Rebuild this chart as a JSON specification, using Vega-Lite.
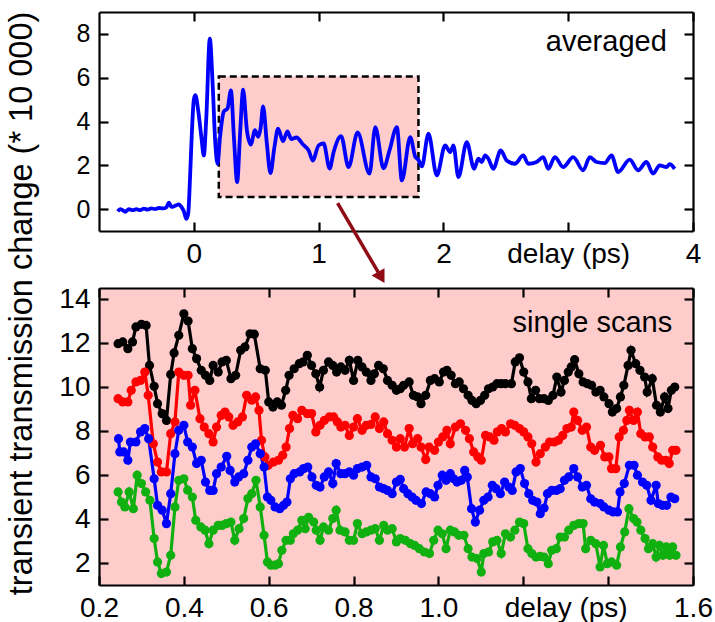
{
  "$schema": "https://vega.github.io/schema/vega-lite/v6.json",
  "padding": {"left": 6, "top": 10, "right": 10, "bottom": 5},
  "config": {
    "font": "Liberation Sans",
    "view": {"stroke": null},
    "axis": {"domainColor": "#000", "domainWidth": 2.2, "tickColor": "#000", "tickWidth": 2.2, "tickSize": -9, "labelPadding": 18, "grid": false, "labelColor": "#000", "labelFontSize": 28, "labelFlush": false, "labelOverlap": false, "titleFontWeight": "normal", "titleColor": "#000"}
  },
  "title": {"text": "transient transmission change (* 10 000)", "orient": "left", "anchor": "middle", "fontSize": 32.5, "fontWeight": "normal", "color": "#000", "offset": 20, "dx": 13},
  "datasets": {
    "box": [{"x0": 0.2, "x1": 1.8, "y0": 0.55, "y1": 6.05}],
    "arrow": [{"x0": 1.152, "y0": 0.27, "x1": 1.502, "y1": -3.12}],
    "avg": [
      {"t": -0.61, "v": -0.1}, {"t": -0.59, "v": 0.0}, {"t": -0.57, "v": -0.05}, {"t": -0.55, "v": -0.12}, {"t": -0.52, "v": 0.0},
      {"t": -0.49, "v": -0.05}, {"t": -0.46, "v": 0.0}, {"t": -0.43, "v": -0.05}, {"t": -0.40, "v": 0.02}, {"t": -0.37, "v": -0.02},
      {"t": -0.34, "v": 0.03}, {"t": -0.31, "v": 0.0}, {"t": -0.28, "v": 0.05}, {"t": -0.25, "v": 0.03}, {"t": -0.22, "v": 0.08},
      {"t": -0.20, "v": 0.3}, {"t": -0.18, "v": 0.1}, {"t": -0.15, "v": 0.15}, {"t": -0.12, "v": 0.22}, {"t": -0.10, "v": 0.1},
      {"t": -0.08, "v": -0.1}, {"t": -0.06, "v": -0.45}, {"t": -0.045, "v": -0.2}, {"t": -0.03, "v": 1.5}, {"t": -0.015, "v": 3.6},
      {"t": 0.0, "v": 5.0}, {"t": 0.012, "v": 5.2}, {"t": 0.035, "v": 4.5}, {"t": 0.06, "v": 3.3}, {"t": 0.08, "v": 2.45},
      {"t": 0.1, "v": 4.2}, {"t": 0.128, "v": 7.78}, {"t": 0.15, "v": 5.8}, {"t": 0.172, "v": 3.0}, {"t": 0.19, "v": 2.07},
      {"t": 0.21, "v": 3.3}, {"t": 0.24, "v": 4.45}, {"t": 0.27, "v": 4.6}, {"t": 0.297, "v": 5.42}, {"t": 0.322, "v": 3.2},
      {"t": 0.347, "v": 1.23}, {"t": 0.372, "v": 3.6}, {"t": 0.395, "v": 5.45}, {"t": 0.425, "v": 3.6}, {"t": 0.456, "v": 2.95},
      {"t": 0.49, "v": 3.6}, {"t": 0.515, "v": 3.3}, {"t": 0.535, "v": 3.7}, {"t": 0.555, "v": 4.69}, {"t": 0.585, "v": 3.0},
      {"t": 0.614, "v": 1.64}, {"t": 0.645, "v": 2.8}, {"t": 0.675, "v": 3.67}, {"t": 0.715, "v": 3.1}, {"t": 0.75, "v": 3.55},
      {"t": 0.78, "v": 3.2}, {"t": 0.822, "v": 3.27}, {"t": 0.875, "v": 2.95}, {"t": 0.92, "v": 2.68}, {"t": 0.953, "v": 2.22},
      {"t": 1.0, "v": 2.91}, {"t": 1.04, "v": 3.0}, {"t": 1.088, "v": 1.85}, {"t": 1.12, "v": 2.6}, {"t": 1.18, "v": 3.33},
      {"t": 1.24, "v": 1.92}, {"t": 1.312, "v": 3.5}, {"t": 1.408, "v": 1.62}, {"t": 1.454, "v": 3.74}, {"t": 1.52, "v": 1.86},
      {"t": 1.568, "v": 2.68}, {"t": 1.627, "v": 3.74}, {"t": 1.667, "v": 1.31}, {"t": 1.734, "v": 3.29}, {"t": 1.774, "v": 2.4},
      {"t": 1.8, "v": 2.25}, {"t": 1.827, "v": 1.95}, {"t": 1.88, "v": 3.44}, {"t": 1.947, "v": 1.54}, {"t": 2.014, "v": 2.91},
      {"t": 2.054, "v": 2.6}, {"t": 2.08, "v": 2.91}, {"t": 2.12, "v": 1.46}, {"t": 2.187, "v": 3.06}, {"t": 2.246, "v": 1.84},
      {"t": 2.28, "v": 2.3}, {"t": 2.307, "v": 2.15}, {"t": 2.334, "v": 2.45}, {"t": 2.36, "v": 2.3}, {"t": 2.4, "v": 1.84},
      {"t": 2.459, "v": 2.68}, {"t": 2.507, "v": 2.22}, {"t": 2.573, "v": 2.07}, {"t": 2.64, "v": 2.45}, {"t": 2.68, "v": 2.07},
      {"t": 2.747, "v": 2.15}, {"t": 2.8, "v": 2.37}, {"t": 2.84, "v": 1.84}, {"t": 2.893, "v": 2.37}, {"t": 2.96, "v": 1.92},
      {"t": 3.04, "v": 2.37}, {"t": 3.12, "v": 1.77}, {"t": 3.173, "v": 2.37}, {"t": 3.227, "v": 2.15}, {"t": 3.293, "v": 2.1},
      {"t": 3.347, "v": 2.45}, {"t": 3.4, "v": 1.69}, {"t": 3.493, "v": 2.26}, {"t": 3.56, "v": 1.77}, {"t": 3.627, "v": 2.15},
      {"t": 3.68, "v": 1.62}, {"t": 3.733, "v": 2.0}, {"t": 3.787, "v": 1.92}, {"t": 3.813, "v": 2.05}, {"t": 3.853, "v": 1.84}
    ],
    "scans": [
      {"s":"k","t":0.245,"v":11.97},{"s":"k","t":0.256,"v":12.05},{"s":"k","t":0.268,"v":11.74},{"s":"k","t":0.279,"v":12.05},{"s":"k","t":0.287,"v":12.73},
      {"s":"k","t":0.3,"v":12.85},{"s":"k","t":0.311,"v":12.8},{"s":"k","t":0.319,"v":10.98},{"s":"k","t":0.33,"v":10.03},{"s":"k","t":0.338,"v":9.24},
      {"s":"k","t":0.349,"v":8.79},{"s":"k","t":0.359,"v":8.48},{"s":"k","t":0.369,"v":10.57},{"s":"k","t":0.377,"v":11.55},{"s":"k","t":0.388,"v":12.35},
      {"s":"k","t":0.4,"v":13.33},{"s":"k","t":0.41,"v":13.0},{"s":"k","t":0.42,"v":11.74},{"s":"k","t":0.43,"v":11.29},{"s":"k","t":0.441,"v":10.76},
      {"s":"k","t":0.451,"v":10.53},{"s":"k","t":0.461,"v":10.3},{"s":"k","t":0.469,"v":10.98},{"s":"k","t":0.481,"v":10.68},{"s":"k","t":0.49,"v":11.14},
      {"s":"k","t":0.5,"v":11.21},{"s":"k","t":0.511,"v":10.38},{"s":"k","t":0.522,"v":10.53},{"s":"k","t":0.534,"v":11.67},{"s":"k","t":0.544,"v":11.82},
      {"s":"k","t":0.556,"v":12.42},{"s":"k","t":0.566,"v":12.4},{"s":"k","t":0.58,"v":10.83},{"s":"k","t":0.592,"v":10.76},{"s":"k","t":0.6,"v":9.32},
      {"s":"k","t":0.61,"v":9.09},{"s":"k","t":0.62,"v":9.32},{"s":"k","t":0.63,"v":9.17},{"s":"k","t":0.64,"v":9.85},{"s":"k","t":0.648,"v":10.53},
      {"s":"k","t":0.66,"v":10.83},{"s":"k","t":0.672,"v":11.06},{"s":"k","t":0.681,"v":11.14},{"s":"k","t":0.691,"v":11.44},{"s":"k","t":0.701,"v":10.98},
      {"s":"k","t":0.711,"v":10.6},{"s":"k","t":0.72,"v":10.0},{"s":"k","t":0.729,"v":10.76},{"s":"k","t":0.741,"v":11.14},{"s":"k","t":0.751,"v":10.98},
      {"s":"k","t":0.76,"v":10.68},{"s":"k","t":0.77,"v":10.91},{"s":"k","t":0.78,"v":10.76},{"s":"k","t":0.79,"v":11.21},{"s":"k","t":0.8,"v":10.3},
      {"s":"k","t":0.81,"v":11.21},{"s":"k","t":0.82,"v":10.91},{"s":"k","t":0.83,"v":10.68},{"s":"k","t":0.841,"v":10.3},{"s":"k","t":0.849,"v":10.6},
      {"s":"k","t":0.859,"v":10.98},{"s":"k","t":0.87,"v":10.83},{"s":"k","t":0.88,"v":10.3},{"s":"k","t":0.891,"v":10.08},{"s":"k","t":0.901,"v":9.85},
      {"s":"k","t":0.91,"v":9.92},{"s":"k","t":0.918,"v":10.08},{"s":"k","t":0.931,"v":10.23},{"s":"k","t":0.941,"v":9.62},{"s":"k","t":0.951,"v":9.55},
      {"s":"k","t":0.959,"v":9.24},{"s":"k","t":0.97,"v":9.62},{"s":"k","t":0.981,"v":10.3},{"s":"k","t":0.991,"v":10.38},{"s":"k","t":1.002,"v":10.23},
      {"s":"k","t":1.012,"v":10.68},{"s":"k","t":1.02,"v":10.76},{"s":"k","t":1.03,"v":10.53},{"s":"k","t":1.04,"v":10.15},{"s":"k","t":1.049,"v":10.23},
      {"s":"k","t":1.059,"v":9.92},{"s":"k","t":1.07,"v":9.62},{"s":"k","t":1.079,"v":9.39},{"s":"k","t":1.089,"v":9.24},{"s":"k","t":1.099,"v":9.39},
      {"s":"k","t":1.109,"v":9.62},{"s":"k","t":1.118,"v":9.92},{"s":"k","t":1.128,"v":10.0},{"s":"k","t":1.138,"v":10.15},{"s":"k","t":1.148,"v":10.15},
      {"s":"k","t":1.158,"v":10.15},{"s":"k","t":1.172,"v":10.15},{"s":"k","t":1.181,"v":11.14},{"s":"k","t":1.191,"v":11.33},{"s":"k","t":1.201,"v":10.68},
      {"s":"k","t":1.211,"v":10.23},{"s":"k","t":1.219,"v":9.47},{"s":"k","t":1.229,"v":9.85},{"s":"k","t":1.238,"v":9.47},{"s":"k","t":1.249,"v":9.47},
      {"s":"k","t":1.259,"v":9.39},{"s":"k","t":1.27,"v":9.62},{"s":"k","t":1.279,"v":10.45},{"s":"k","t":1.289,"v":9.77},{"s":"k","t":1.297,"v":10.3},
      {"s":"k","t":1.306,"v":10.68},{"s":"k","t":1.313,"v":10.91},{"s":"k","t":1.321,"v":11.24},{"s":"k","t":1.331,"v":10.6},{"s":"k","t":1.341,"v":10.23},
      {"s":"k","t":1.351,"v":10.15},{"s":"k","t":1.361,"v":10.08},{"s":"k","t":1.371,"v":9.77},{"s":"k","t":1.381,"v":9.85},{"s":"k","t":1.39,"v":9.55},
      {"s":"k","t":1.402,"v":9.24},{"s":"k","t":1.41,"v":8.86},{"s":"k","t":1.42,"v":9.02},{"s":"k","t":1.429,"v":9.55},{"s":"k","t":1.437,"v":10.08},
      {"s":"k","t":1.447,"v":10.98},{"s":"k","t":1.454,"v":11.67},{"s":"k","t":1.465,"v":11.06},{"s":"k","t":1.475,"v":10.76},{"s":"k","t":1.486,"v":10.45},
      {"s":"k","t":1.492,"v":9.77},{"s":"k","t":1.504,"v":10.38},{"s":"k","t":1.514,"v":9.17},{"s":"k","t":1.523,"v":8.86},{"s":"k","t":1.533,"v":9.55},
      {"s":"k","t":1.541,"v":9.02},{"s":"k","t":1.549,"v":9.85},{"s":"k","t":1.557,"v":10.0},

      {"s":"r","t":0.245,"v":9.47},{"s":"r","t":0.256,"v":9.32},{"s":"r","t":0.268,"v":9.32},{"s":"r","t":0.276,"v":9.85},{"s":"r","t":0.287,"v":10.23},
      {"s":"r","t":0.298,"v":10.3},{"s":"r","t":0.308,"v":10.68},{"s":"r","t":0.316,"v":9.62},{"s":"r","t":0.328,"v":7.42},{"s":"r","t":0.338,"v":6.59},
      {"s":"r","t":0.347,"v":6.14},{"s":"r","t":0.359,"v":6.14},{"s":"r","t":0.369,"v":7.88},{"s":"r","t":0.379,"v":8.41},{"s":"r","t":0.388,"v":10.68},
      {"s":"r","t":0.4,"v":10.53},{"s":"r","t":0.41,"v":10.53},{"s":"r","t":0.416,"v":9.17},{"s":"r","t":0.426,"v":9.85},{"s":"r","t":0.438,"v":8.56},
      {"s":"r","t":0.448,"v":8.18},{"s":"r","t":0.459,"v":7.88},{"s":"r","t":0.469,"v":7.5},{"s":"r","t":0.477,"v":8.18},{"s":"r","t":0.488,"v":8.71},
      {"s":"r","t":0.497,"v":8.86},{"s":"r","t":0.506,"v":8.64},{"s":"r","t":0.516,"v":8.26},{"s":"r","t":0.527,"v":8.41},{"s":"r","t":0.538,"v":8.64},
      {"s":"r","t":0.548,"v":9.62},{"s":"r","t":0.56,"v":9.4},{"s":"r","t":0.569,"v":9.55},{"s":"r","t":0.577,"v":8.94},{"s":"r","t":0.583,"v":7.58},
      {"s":"r","t":0.591,"v":6.82},{"s":"r","t":0.599,"v":6.44},{"s":"r","t":0.611,"v":6.59},{"s":"r","t":0.623,"v":6.67},{"s":"r","t":0.633,"v":6.9},
      {"s":"r","t":0.641,"v":7.27},{"s":"r","t":0.649,"v":8.11},{"s":"r","t":0.657,"v":8.71},{"s":"r","t":0.668,"v":8.56},{"s":"r","t":0.678,"v":8.94},
      {"s":"r","t":0.691,"v":8.79},{"s":"r","t":0.701,"v":8.79},{"s":"r","t":0.711,"v":7.96},{"s":"r","t":0.721,"v":8.26},{"s":"r","t":0.731,"v":8.48},
      {"s":"r","t":0.743,"v":8.64},{"s":"r","t":0.753,"v":8.64},{"s":"r","t":0.762,"v":8.41},{"s":"r","t":0.77,"v":8.18},{"s":"r","t":0.78,"v":8.26},
      {"s":"r","t":0.79,"v":7.8},{"s":"r","t":0.8,"v":8.18},{"s":"r","t":0.809,"v":8.56},{"s":"r","t":0.82,"v":8.03},{"s":"r","t":0.83,"v":8.26},
      {"s":"r","t":0.841,"v":8.3},{"s":"r","t":0.851,"v":8.64},{"s":"r","t":0.861,"v":8.11},{"s":"r","t":0.871,"v":8.41},{"s":"r","t":0.88,"v":7.88},
      {"s":"r","t":0.891,"v":7.58},{"s":"r","t":0.901,"v":7.27},{"s":"r","t":0.91,"v":7.65},{"s":"r","t":0.92,"v":7.27},{"s":"r","t":0.931,"v":8.11},
      {"s":"r","t":0.939,"v":7.42},{"s":"r","t":0.951,"v":7.65},{"s":"r","t":0.959,"v":7.27},{"s":"r","t":0.97,"v":6.7},{"s":"r","t":0.978,"v":7.27},
      {"s":"r","t":0.991,"v":7.12},{"s":"r","t":1.0,"v":7.5},{"s":"r","t":1.01,"v":7.73},{"s":"r","t":1.02,"v":8.03},{"s":"r","t":1.028,"v":7.42},
      {"s":"r","t":1.04,"v":8.18},{"s":"r","t":1.052,"v":8.33},{"s":"r","t":1.064,"v":8.03},{"s":"r","t":1.073,"v":7.65},{"s":"r","t":1.083,"v":7.05},
      {"s":"r","t":1.093,"v":6.82},{"s":"r","t":1.101,"v":6.67},{"s":"r","t":1.111,"v":7.8},{"s":"r","t":1.121,"v":7.73},{"s":"r","t":1.131,"v":7.58},
      {"s":"r","t":1.139,"v":7.96},{"s":"r","t":1.149,"v":8.11},{"s":"r","t":1.158,"v":7.96},{"s":"r","t":1.17,"v":8.33},{"s":"r","t":1.18,"v":8.26},
      {"s":"r","t":1.191,"v":8.11},{"s":"r","t":1.201,"v":7.96},{"s":"r","t":1.211,"v":7.73},{"s":"r","t":1.22,"v":7.42},{"s":"r","t":1.23,"v":6.59},
      {"s":"r","t":1.24,"v":6.97},{"s":"r","t":1.252,"v":7.27},{"s":"r","t":1.262,"v":7.5},{"s":"r","t":1.273,"v":7.5},{"s":"r","t":1.283,"v":7.58},
      {"s":"r","t":1.293,"v":7.8},{"s":"r","t":1.303,"v":8.11},{"s":"r","t":1.313,"v":8.18},{"s":"r","t":1.319,"v":8.86},{"s":"r","t":1.328,"v":8.48},
      {"s":"r","t":1.339,"v":8.03},{"s":"r","t":1.349,"v":8.18},{"s":"r","t":1.359,"v":7.27},{"s":"r","t":1.368,"v":7.12},{"s":"r","t":1.382,"v":7.35},
      {"s":"r","t":1.392,"v":6.82},{"s":"r","t":1.402,"v":6.82},{"s":"r","t":1.408,"v":6.29},{"s":"r","t":1.418,"v":6.29},{"s":"r","t":1.426,"v":7.73},
      {"s":"r","t":1.436,"v":8.03},{"s":"r","t":1.444,"v":8.48},{"s":"r","t":1.45,"v":8.94},{"s":"r","t":1.46,"v":8.48},{"s":"r","t":1.469,"v":8.86},
      {"s":"r","t":1.477,"v":7.88},{"s":"r","t":1.487,"v":7.73},{"s":"r","t":1.497,"v":7.73},{"s":"r","t":1.505,"v":7.27},{"s":"r","t":1.517,"v":6.82},
      {"s":"r","t":1.526,"v":6.67},{"s":"r","t":1.536,"v":6.67},{"s":"r","t":1.544,"v":6.52},{"s":"r","t":1.552,"v":7.12},{"s":"r","t":1.56,"v":7.12},

      {"s":"b","t":0.246,"v":7.65},{"s":"b","t":0.249,"v":7.05},{"s":"b","t":0.258,"v":7.05},{"s":"b","t":0.268,"v":6.67},{"s":"b","t":0.274,"v":7.5},
      {"s":"b","t":0.287,"v":7.5},{"s":"b","t":0.298,"v":7.96},{"s":"b","t":0.308,"v":8.11},{"s":"b","t":0.317,"v":7.65},{"s":"b","t":0.33,"v":5.83},
      {"s":"b","t":0.338,"v":4.62},{"s":"b","t":0.349,"v":4.4},{"s":"b","t":0.359,"v":3.79},{"s":"b","t":0.369,"v":5.15},{"s":"b","t":0.379,"v":6.97},
      {"s":"b","t":0.388,"v":8.03},{"s":"b","t":0.4,"v":8.26},{"s":"b","t":0.409,"v":7.5},{"s":"b","t":0.42,"v":7.27},{"s":"b","t":0.43,"v":6.52},
      {"s":"b","t":0.441,"v":6.67},{"s":"b","t":0.451,"v":5.68},{"s":"b","t":0.461,"v":5.3},{"s":"b","t":0.469,"v":5.3},{"s":"b","t":0.477,"v":6.06},
      {"s":"b","t":0.488,"v":6.36},{"s":"b","t":0.501,"v":6.85},{"s":"b","t":0.509,"v":6.21},{"s":"b","t":0.52,"v":5.68},{"s":"b","t":0.529,"v":5.91},
      {"s":"b","t":0.541,"v":6.06},{"s":"b","t":0.551,"v":6.67},{"s":"b","t":0.56,"v":7.27},{"s":"b","t":0.569,"v":7.42},{"s":"b","t":0.58,"v":6.97},
      {"s":"b","t":0.589,"v":6.36},{"s":"b","t":0.597,"v":5.0},{"s":"b","t":0.605,"v":4.85},{"s":"b","t":0.615,"v":4.55},{"s":"b","t":0.626,"v":4.47},
      {"s":"b","t":0.635,"v":4.62},{"s":"b","t":0.643,"v":4.77},{"s":"b","t":0.651,"v":5.83},{"s":"b","t":0.66,"v":6.06},{"s":"b","t":0.673,"v":6.14},
      {"s":"b","t":0.682,"v":6.29},{"s":"b","t":0.692,"v":6.36},{"s":"b","t":0.702,"v":5.91},{"s":"b","t":0.712,"v":5.53},{"s":"b","t":0.721,"v":5.45},
      {"s":"b","t":0.731,"v":5.91},{"s":"b","t":0.741,"v":6.14},{"s":"b","t":0.751,"v":5.61},{"s":"b","t":0.759,"v":6.52},{"s":"b","t":0.77,"v":6.06},
      {"s":"b","t":0.78,"v":6.06},{"s":"b","t":0.79,"v":6.14},{"s":"b","t":0.8,"v":5.99},{"s":"b","t":0.809,"v":6.29},{"s":"b","t":0.82,"v":6.36},
      {"s":"b","t":0.831,"v":6.44},{"s":"b","t":0.841,"v":5.91},{"s":"b","t":0.851,"v":5.83},{"s":"b","t":0.861,"v":5.45},{"s":"b","t":0.871,"v":5.38},
      {"s":"b","t":0.88,"v":5.3},{"s":"b","t":0.891,"v":5.15},{"s":"b","t":0.901,"v":5.68},{"s":"b","t":0.91,"v":5.8},{"s":"b","t":0.918,"v":5.38},
      {"s":"b","t":0.928,"v":5.15},{"s":"b","t":0.938,"v":5.0},{"s":"b","t":0.947,"v":4.85},{"s":"b","t":0.96,"v":4.7},{"s":"b","t":0.971,"v":5.23},
      {"s":"b","t":0.981,"v":5.15},{"s":"b","t":0.991,"v":5.0},{"s":"b","t":0.999,"v":5.53},{"s":"b","t":1.009,"v":5.99},{"s":"b","t":1.018,"v":5.76},
      {"s":"b","t":1.028,"v":6.06},{"s":"b","t":1.036,"v":5.83},{"s":"b","t":1.044,"v":5.68},{"s":"b","t":1.054,"v":5.76},{"s":"b","t":1.062,"v":6.21},
      {"s":"b","t":1.068,"v":5.91},{"s":"b","t":1.078,"v":4.47},{"s":"b","t":1.087,"v":3.86},{"s":"b","t":1.097,"v":4.4},{"s":"b","t":1.107,"v":4.85},
      {"s":"b","t":1.117,"v":5.0},{"s":"b","t":1.127,"v":5.53},{"s":"b","t":1.136,"v":5.38},{"s":"b","t":1.146,"v":5.15},{"s":"b","t":1.156,"v":5.68},
      {"s":"b","t":1.166,"v":5.45},{"s":"b","t":1.174,"v":5.3},{"s":"b","t":1.183,"v":6.14},{"s":"b","t":1.193,"v":6.29},{"s":"b","t":1.203,"v":5.61},
      {"s":"b","t":1.213,"v":5.15},{"s":"b","t":1.222,"v":4.85},{"s":"b","t":1.232,"v":4.77},{"s":"b","t":1.24,"v":4.24},{"s":"b","t":1.249,"v":4.5},
      {"s":"b","t":1.257,"v":5.15},{"s":"b","t":1.267,"v":5.3},{"s":"b","t":1.278,"v":5.3},{"s":"b","t":1.287,"v":5.38},{"s":"b","t":1.297,"v":5.76},
      {"s":"b","t":1.307,"v":5.91},{"s":"b","t":1.319,"v":6.29},{"s":"b","t":1.328,"v":5.91},{"s":"b","t":1.339,"v":5.45},{"s":"b","t":1.349,"v":5.53},
      {"s":"b","t":1.359,"v":4.92},{"s":"b","t":1.368,"v":4.77},{"s":"b","t":1.381,"v":4.7},{"s":"b","t":1.39,"v":4.55},{"s":"b","t":1.402,"v":4.4},
      {"s":"b","t":1.412,"v":4.32},{"s":"b","t":1.422,"v":4.32},{"s":"b","t":1.428,"v":5.23},{"s":"b","t":1.438,"v":5.61},{"s":"b","t":1.45,"v":6.44},
      {"s":"b","t":1.461,"v":6.44},{"s":"b","t":1.469,"v":5.99},{"s":"b","t":1.481,"v":5.68},{"s":"b","t":1.491,"v":5.53},{"s":"b","t":1.501,"v":4.85},
      {"s":"b","t":1.513,"v":5.53},{"s":"b","t":1.518,"v":4.7},{"s":"b","t":1.528,"v":4.62},{"s":"b","t":1.538,"v":4.62},{"s":"b","t":1.548,"v":5.0},
      {"s":"b","t":1.557,"v":4.92},

      {"s":"g","t":0.245,"v":5.23},{"s":"g","t":0.253,"v":4.77},{"s":"g","t":0.261,"v":4.55},{"s":"g","t":0.271,"v":5.23},{"s":"g","t":0.281,"v":4.47},
      {"s":"g","t":0.29,"v":5.99},{"s":"g","t":0.3,"v":5.61},{"s":"g","t":0.31,"v":5.23},{"s":"g","t":0.32,"v":4.85},{"s":"g","t":0.33,"v":3.11},
      {"s":"g","t":0.338,"v":2.05},{"s":"g","t":0.347,"v":1.52},{"s":"g","t":0.359,"v":1.59},{"s":"g","t":0.369,"v":2.35},{"s":"g","t":0.379,"v":4.55},
      {"s":"g","t":0.388,"v":5.76},{"s":"g","t":0.4,"v":5.83},{"s":"g","t":0.409,"v":5.31},{"s":"g","t":0.42,"v":5.0},{"s":"g","t":0.428,"v":3.94},
      {"s":"g","t":0.44,"v":3.64},{"s":"g","t":0.45,"v":3.49},{"s":"g","t":0.459,"v":2.88},{"s":"g","t":0.469,"v":3.49},{"s":"g","t":0.481,"v":3.71},
      {"s":"g","t":0.49,"v":3.71},{"s":"g","t":0.5,"v":3.79},{"s":"g","t":0.511,"v":3.86},{"s":"g","t":0.52,"v":3.03},{"s":"g","t":0.53,"v":3.56},
      {"s":"g","t":0.541,"v":4.02},{"s":"g","t":0.551,"v":4.93},{"s":"g","t":0.56,"v":5.15},{"s":"g","t":0.57,"v":5.76},{"s":"g","t":0.58,"v":4.55},
      {"s":"g","t":0.589,"v":3.26},{"s":"g","t":0.597,"v":2.05},{"s":"g","t":0.605,"v":1.9},{"s":"g","t":0.615,"v":1.9},{"s":"g","t":0.623,"v":1.97},
      {"s":"g","t":0.631,"v":2.58},{"s":"g","t":0.641,"v":3.03},{"s":"g","t":0.651,"v":3.03},{"s":"g","t":0.658,"v":3.33},{"s":"g","t":0.668,"v":3.49},
      {"s":"g","t":0.678,"v":3.94},{"s":"g","t":0.686,"v":3.56},{"s":"g","t":0.694,"v":4.08},{"s":"g","t":0.706,"v":3.86},{"s":"g","t":0.712,"v":3.49},
      {"s":"g","t":0.721,"v":3.03},{"s":"g","t":0.729,"v":3.64},{"s":"g","t":0.741,"v":3.49},{"s":"g","t":0.751,"v":4.02},{"s":"g","t":0.759,"v":4.4},
      {"s":"g","t":0.768,"v":3.49},{"s":"g","t":0.78,"v":3.41},{"s":"g","t":0.79,"v":3.03},{"s":"g","t":0.8,"v":3.03},{"s":"g","t":0.809,"v":3.79},
      {"s":"g","t":0.82,"v":3.33},{"s":"g","t":0.83,"v":3.41},{"s":"g","t":0.841,"v":3.49},{"s":"g","t":0.851,"v":3.56},{"s":"g","t":0.861,"v":3.03},
      {"s":"g","t":0.871,"v":3.71},{"s":"g","t":0.88,"v":3.49},{"s":"g","t":0.891,"v":3.56},{"s":"g","t":0.901,"v":2.96},{"s":"g","t":0.91,"v":3.11},
      {"s":"g","t":0.922,"v":3.03},{"s":"g","t":0.934,"v":2.88},{"s":"g","t":0.944,"v":2.8},{"s":"g","t":0.955,"v":2.65},{"s":"g","t":0.967,"v":2.5},
      {"s":"g","t":0.979,"v":2.43},{"s":"g","t":0.989,"v":3.03},{"s":"g","t":0.999,"v":3.49},{"s":"g","t":1.009,"v":3.33},{"s":"g","t":1.018,"v":2.65},
      {"s":"g","t":1.028,"v":3.49},{"s":"g","t":1.038,"v":3.41},{"s":"g","t":1.048,"v":3.26},{"s":"g","t":1.06,"v":3.26},{"s":"g","t":1.07,"v":2.65},
      {"s":"g","t":1.079,"v":2.27},{"s":"g","t":1.091,"v":2.2},{"s":"g","t":1.101,"v":1.59},{"s":"g","t":1.107,"v":2.43},{"s":"g","t":1.118,"v":2.5},
      {"s":"g","t":1.128,"v":2.96},{"s":"g","t":1.138,"v":3.03},{"s":"g","t":1.148,"v":2.43},{"s":"g","t":1.158,"v":3.33},{"s":"g","t":1.17,"v":3.18},
      {"s":"g","t":1.18,"v":3.49},{"s":"g","t":1.191,"v":3.86},{"s":"g","t":1.201,"v":3.79},{"s":"g","t":1.211,"v":2.65},{"s":"g","t":1.22,"v":2.43},
      {"s":"g","t":1.23,"v":2.27},{"s":"g","t":1.24,"v":2.3},{"s":"g","t":1.249,"v":2.27},{"s":"g","t":1.259,"v":1.97},{"s":"g","t":1.267,"v":2.58},
      {"s":"g","t":1.278,"v":2.65},{"s":"g","t":1.287,"v":3.18},{"s":"g","t":1.297,"v":3.18},{"s":"g","t":1.307,"v":3.49},{"s":"g","t":1.319,"v":3.71},
      {"s":"g","t":1.331,"v":3.79},{"s":"g","t":1.341,"v":3.79},{"s":"g","t":1.347,"v":2.65},{"s":"g","t":1.359,"v":3.03},{"s":"g","t":1.371,"v":2.88},
      {"s":"g","t":1.381,"v":1.82},{"s":"g","t":1.389,"v":2.8},{"s":"g","t":1.398,"v":1.97},{"s":"g","t":1.408,"v":2.05},{"s":"g","t":1.42,"v":1.9},
      {"s":"g","t":1.429,"v":2.73},{"s":"g","t":1.439,"v":3.41},{"s":"g","t":1.449,"v":4.47},{"s":"g","t":1.46,"v":4.02},{"s":"g","t":1.468,"v":3.86},
      {"s":"g","t":1.477,"v":3.49},{"s":"g","t":1.487,"v":3.11},{"s":"g","t":1.495,"v":2.65},{"s":"g","t":1.505,"v":2.88},{"s":"g","t":1.513,"v":2.27},
      {"s":"g","t":1.521,"v":2.8},{"s":"g","t":1.529,"v":2.35},{"s":"g","t":1.537,"v":2.73},{"s":"g","t":1.545,"v":2.35},{"s":"g","t":1.552,"v":2.73},
      {"s":"g","t":1.56,"v":2.35}
    ]
  },
  "spacing": 57,
  "bounds": "flush",
  "vconcat": [
    {
      "width": 594,
      "height": 219,
      "layer": [
        {
          "data": {"name": "box"},
          "mark": {"type": "rect", "fill": "#ffcccc", "stroke": "#000", "strokeWidth": 2.5, "strokeDash": [7, 4]},
          "encoding": {
            "x": {"field": "x0", "type": "quantitative", "scale": {"domain": [-0.76, 4], "nice": false, "zero": false},
                  "axis": {"orient": "bottom", "values": [0, 1, 2, 3, 4], "format": "d", "labelExpr": "datum.value == 3 ? 'delay (ps)' : datum.label", "title": null}},
            "x2": {"field": "x1"},
            "y": {"field": "y0", "type": "quantitative", "scale": {"domain": [-1, 9], "nice": false, "zero": false},
                  "axis": {"orient": "left", "values": [0, 2, 4, 6, 8], "labelFontSize": 25, "title": null}},
            "y2": {"field": "y1"}
          }
        },
        {
          "data": {"name": "avg"},
          "mark": {"type": "line", "color": "#0000ff", "strokeWidth": 3.8, "interpolate": "monotone"},
          "encoding": {
            "x": {"field": "t", "type": "quantitative", "axis": {"orient": "top", "values": [0, 1, 2, 3, 4], "labels": false, "title": null}},
            "y": {"field": "v", "type": "quantitative", "axis": {"orient": "right", "values": [0, 2, 4, 6, 8], "labels": false, "title": null}}
          }
        },
        {
          "data": {"name": "arrow"},
          "mark": {"type": "rule", "color": "#900c14", "strokeWidth": 3.5, "clip": false},
          "encoding": {
            "x": {"field": "x0", "type": "quantitative", "axis": null},
            "y": {"field": "y0", "type": "quantitative", "axis": null},
            "x2": {"field": "x1"},
            "y2": {"field": "y1"}
          }
        },
        {
          "data": {"name": "arrow"},
          "mark": {"type": "point", "shape": "triangle-down", "filled": true, "color": "#900c14", "size": 220, "angle": -30, "opacity": 1},
          "encoding": {
            "x": {"field": "x1", "type": "quantitative", "axis": null},
            "y": {"field": "y1", "type": "quantitative", "axis": null}
          }
        },
        {
          "data": {"values": [{"x": 3.79, "y": 7.2, "label": "averaged"}]},
          "mark": {"type": "text", "align": "right", "baseline": "alphabetic", "fontSize": 29, "color": "#000"},
          "encoding": {
            "x": {"field": "x", "type": "quantitative", "axis": null},
            "y": {"field": "y", "type": "quantitative", "axis": null},
            "text": {"field": "label"}
          }
        }
      ],
      "resolve": {"axis": {"x": "independent", "y": "independent"}}
    },
    {
      "width": 594,
      "height": 297,
      "view": {"fill": "#ffcccc", "stroke": null},
      "layer": [
        {
          "data": {"name": "scans"},
          "mark": {"type": "line", "strokeWidth": 3.2, "point": {"filled": true, "size": 85, "opacity": 1}},
          "encoding": {
            "x": {"field": "t", "type": "quantitative", "scale": {"domain": [0.2, 1.6], "nice": false, "zero": false},
                  "axis": {"orient": "bottom", "values": [0.2, 0.4, 0.6, 0.8, 1.0, 1.2, 1.4, 1.6], "format": ".1f",
                           "labelExpr": "datum.value > 1.1 && datum.value < 1.5 ? '' : datum.label",
                           "title": "delay (ps)", "titleFontSize": 28, "titleX": 466.7, "titleY": 9, "titleBaseline": "top", "titleAlign": "center"}},
            "y": {"field": "v", "type": "quantitative", "scale": {"domain": [1, 14.5], "nice": false, "zero": false},
                  "axis": {"orient": "left", "values": [2, 4, 6, 8, 10, 12, 14], "title": null}},
            "color": {"field": "s", "type": "nominal", "scale": {"domain": ["k", "r", "b", "g"], "range": ["#000000", "#ff0000", "#0000ff", "#10b010"]}, "legend": null}
          }
        },
        {
          "data": {"values": [{"x": 1.551, "y": 12.5, "label": "single scans"}]},
          "mark": {"type": "text", "align": "right", "baseline": "alphabetic", "fontSize": 29, "color": "#000"},
          "encoding": {
            "x": {"field": "x", "type": "quantitative", "axis": {"orient": "top", "values": [0.2, 0.4, 0.6, 0.8, 1.0, 1.2, 1.4, 1.6], "labels": false, "title": null}},
            "y": {"field": "y", "type": "quantitative", "axis": {"orient": "right", "values": [2, 4, 6, 8, 10, 12, 14], "labels": false, "title": null}},
            "text": {"field": "label"}
          }
        }
      ],
      "resolve": {"axis": {"x": "independent", "y": "independent"}}
    }
  ]
}
